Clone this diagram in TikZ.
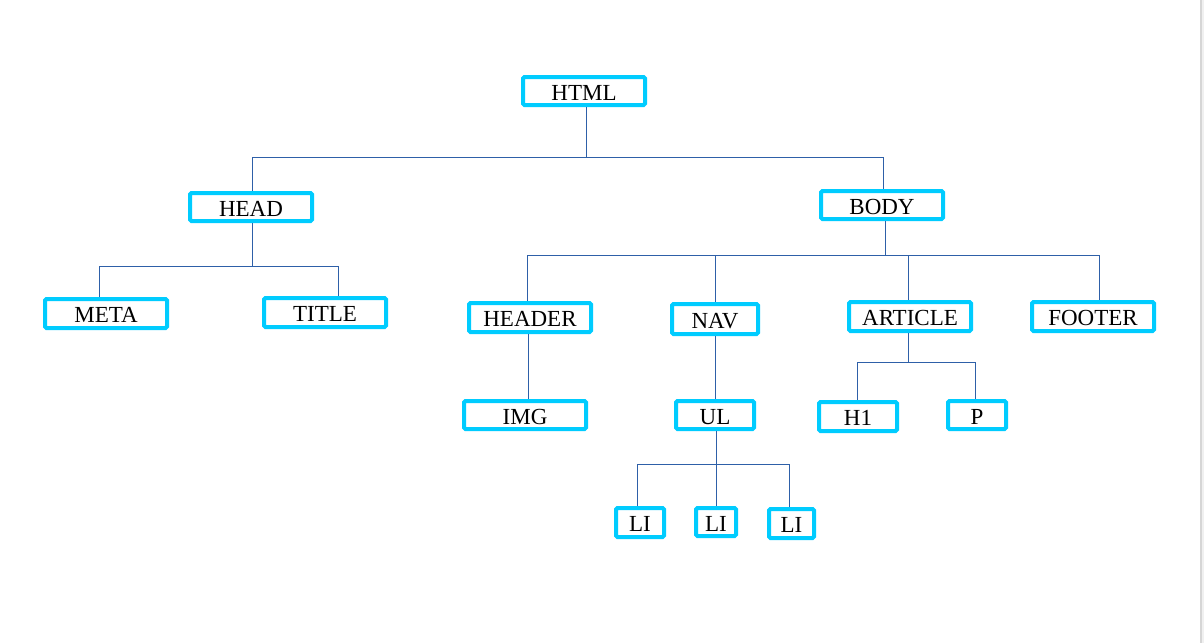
\documentclass[tikz,border=0pt]{standalone}
\usepackage{fontspec}
\setmainfont{Liberation Serif}
\definecolor{boxc}{RGB}{0,204,255}
\definecolor{linec}{RGB}{46,96,168}
\definecolor{edgec}{RGB}{214,214,214}
\definecolor{edgec2}{RGB}{240,240,240}
\begin{document}
\begin{tikzpicture}[x=1pt,y=-1pt,
  box/.style={draw=boxc, line width=4pt, rounded corners=1.5pt, inner sep=0pt,
    font=\fontsize{23}{27}\selectfont, text height=18.3pt, text depth=0pt, fill=white},
  conn/.style={draw=linec, line width=0.9pt}]
\fill[white] (0,0) rectangle (1204,643);
\useasboundingbox (0,0) rectangle (1204,643);
\fill[edgec] (1199.8,0) rectangle (1201.8,643);
\fill[edgec2] (1201.8,0) rectangle (1204,643);
% nodes
\node[box, minimum width=122pt, minimum height=28pt] (html) at (584,91) {HTML};
\node[box, minimum width=122pt, minimum height=28pt] (head) at (251,207) {HEAD};
\node[box, minimum width=122pt, minimum height=28pt] (body) at (882,205) {BODY};
\node[box, minimum width=122pt, minimum height=29pt] (meta) at (106,313.5) {META};
\node[box, minimum width=122pt, minimum height=29pt] (title) at (325,312.5) {TITLE};
\node[box, minimum width=122pt, minimum height=29pt] (header) at (530,317.5) {HEADER};
\node[box, minimum width=86pt, minimum height=30pt] (nav) at (715,319) {NAV};
\node[box, minimum width=122pt, minimum height=29pt] (article) at (910,316.5) {ARTICLE};
\node[box, minimum width=122pt, minimum height=29pt] (footer) at (1093,316.5) {FOOTER};
\node[box, minimum width=122pt, minimum height=28pt] (img) at (525,415) {IMG};
\node[box, minimum width=78pt, minimum height=28pt] (ul) at (715,415) {UL};
\node[box, minimum width=78pt, minimum height=29pt] (h1) at (858,416.5) {H1};
\node[box, minimum width=58pt, minimum height=28pt] (p) at (977,415) {P};
\node[box, minimum width=48pt, minimum height=29pt] (li1) at (640,522.5) {LI};
\node[box, minimum width=40pt, minimum height=28pt] (li2) at (716,522) {LI};
\node[box, minimum width=45pt, minimum height=29pt] (li3) at (791.5,523.5) {LI};
% junctions
\coordinate (j1) at (586,157);
\coordinate (j2) at (252,266);
\coordinate (j3) at (885,255);
\coordinate (j4) at (908,362);
\coordinate (j5) at (716,464);
% connectors
\path[conn] ([xshift=2pt]html.south) -- (j1);
\path[conn] (j1) -| ([xshift=1pt]head.north);
\path[conn] (j1) -| ([xshift=1pt]body.north);
\path[conn] ([xshift=1pt]head.south) -- (j2);
\path[conn] (j2) -| ([xshift=-7pt]meta.north);
\path[conn] (j2) -| ([xshift=13pt]title.north);
\path[conn] ([xshift=3pt]body.south) -- (j3);
\path[conn] (j3) -| ([xshift=-3pt]header.north);
\path[conn] (j3) -| (nav.north);
\path[conn] (j3) -| ([xshift=-2pt]article.north);
\path[conn] (j3) -| ([xshift=6pt]footer.north);
\path[conn] ([xshift=-2pt]header.south) -- ([xshift=3pt]img.north);
\path[conn] (nav.south) -- (ul.north);
\path[conn] ([xshift=-2pt]article.south) -- (j4);
\path[conn] (j4) -| ([xshift=-1pt]h1.north);
\path[conn] (j4) -| ([xshift=-2pt]p.north);
\path[conn] ([xshift=1pt]ul.south) -- (j5);
\path[conn] (j5) -| ([xshift=-3pt]li1.north);
\path[conn] (j5) -- (li2.north);
\path[conn] (j5) -| ([xshift=-2.5pt]li3.north);
\end{tikzpicture}
\end{document}
